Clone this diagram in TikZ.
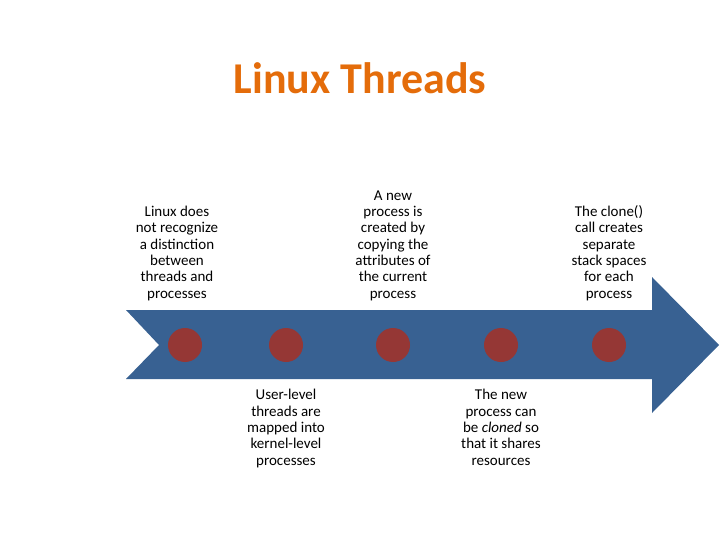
\documentclass[tikz,border=0pt]{standalone}
\usepackage{fontspec}
\setmainfont{Carlito}
\usetikzlibrary{positioning}

\definecolor{arrowblue}{RGB}{56,97,146}
\definecolor{dotred}{RGB}{149,55,53}
\definecolor{titleorange}{RGB}{228,108,10}

\begin{document}
\begin{tikzpicture}[
  x=1pt, y=-1pt,
  heading/.style={font=\fontsize{44}{48}\selectfont\bfseries, text=titleorange},
  band/.style={fill=arrowblue, draw=none},
  dot/.style={circle, fill=dotred, draw=none, minimum size=34pt, inner sep=0pt},
  note/.style={align=center, inner sep=0pt, font=\fontsize{15}{16.3}\selectfont},
]
\useasboundingbox (0,0) rectangle (720,540);

% --- Title ---
\node[heading] (title) at (360,78) {Linux Threads};

% --- Timeline arrow ---
\path[band] (126,310) -- (652,310) -- (652,277) -- (719,345)
  -- (652,413) -- (652,379) -- (126,379) -- (159,345) -- cycle;

% --- Points on the arrow ---
\node[dot] (c1) at (185,345) {};
\node[dot] (c2) at (286,345) {};
\node[dot] (c3) at (393,345) {};
\node[dot] (c4) at (501,345) {};
\node[dot] (c5) at (609,345) {};

% --- Notes above ---
\node[note, above=27pt of c1, xshift=-8pt] (t1)
  {Linux does\\not recognize\\a distinction\\between\\threads and\\processes};
\node[note, above=27pt of c3] (t3)
  {A new\\process is\\created by\\copying the\\attributes of\\the current\\process};
\node[note, above=27pt of c5] (t5)
  {The clone()\\call creates\\separate\\stack spaces\\for each\\process};

% --- Notes below ---
\node[note, below=27pt of c2] (t2)
  {User-level\\threads are\\mapped into\\kernel-level\\processes};
\node[note, below=27pt of c4] (t4)
  {The new\\process can\\be \textit{cloned} so\\that it shares\\resources};

\end{tikzpicture}
\end{document}
